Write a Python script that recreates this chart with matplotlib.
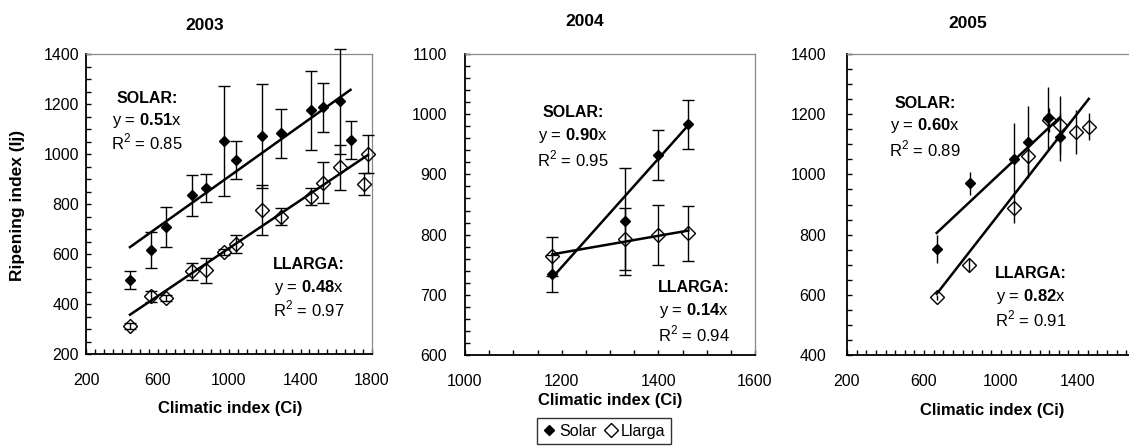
import matplotlib
matplotlib.use("Agg")
import matplotlib.pyplot as plt
from matplotlib.ticker import MultipleLocator, FixedLocator
from matplotlib.lines import Line2D

plt.rcParams['font.family'] = ['Liberation Sans', 'DejaVu Sans']
plt.rcParams['mathtext.fontset'] = 'custom'
plt.rcParams['mathtext.rm'] = 'Liberation Sans'
plt.rcParams['mathtext.bf'] = 'Liberation Sans:bold'
plt.rcParams['font.size'] = 11.5

years = ["2003", "2004", "2005"]

# 2003
ci_solar_03 = [446, 561, 645, 792, 874, 973, 1038, 1183, 1293, 1461, 1526, 1619, 1680]
ij_solar_03 = [497, 615, 708, 835, 864, 1053, 976, 1073, 1084, 1175, 1187, 1211, 1057]
err_solar_03 = [37, 72, 80, 83, 57, 219, 76, 208, 98, 158, 98, 210, 76]
ci_llarga_03 = [446, 561, 645, 792, 874, 973, 1038, 1183, 1293, 1461, 1526, 1619, 1753, 1777]
ij_llarga_03 = [313, 431, 425, 531, 535, 608, 641, 777, 750, 830, 885, 948, 880, 1002]
err_llarga_03 = [12, 22, 12, 35, 50, 12, 37, 100, 33, 34, 82, 90, 44, 76]

# 2004
ci_solar_04 = [1181, 1331, 1400, 1462]
ij_solar_04 = [735, 822, 932, 983]
err_solar_04 = [31, 89, 42, 41]
ci_llarga_04 = [1181, 1331, 1400, 1462]
ij_llarga_04 = [764, 793, 799, 802]
err_llarga_04 = [32, 51, 50, 46]

# 2005
ci_solar_05 = [666, 839, 1069, 1141, 1244, 1305]
ij_solar_05 = [753, 970, 1052, 1107, 1187, 1124]
err_solar_05 = [47, 39, 120, 120, 105, 80]
ci_llarga_05 = [666, 836, 1069, 1141, 1250, 1305, 1388, 1456]
ij_llarga_05 = [592, 700, 889, 1061, 1180, 1164, 1141, 1159]
err_llarga_05 = [8, 22, 50, 53, 40, 96, 72, 44]

# trend lines: slope (as printed) and intercept
slope_solar = [0.51, 0.90, 0.60]
icpt_solar = [400, -334, 406]
r2_solar = [0.85, 0.95, 0.89]
slope_llarga = [0.48, 0.14, 0.82]
icpt_llarga = [143, 602, 57]
r2_llarga = [0.97, 0.94, 0.91]

# labelled x ticks per panel
xticks = [[200, 600, 1000, 1400, 1800],
          [1000, 1200, 1400, 1600],
          [200, 600, 1000, 1400]]

solar = [(ci_solar_03, ij_solar_03, err_solar_03),
         (ci_solar_04, ij_solar_04, err_solar_04),
         (ci_solar_05, ij_solar_05, err_solar_05)]
llarga = [(ci_llarga_03, ij_llarga_03, err_llarga_03),
          (ci_llarga_04, ij_llarga_04, err_llarga_04),
          (ci_llarga_05, ij_llarga_05, err_llarga_05)]

W, H = 1129, 447
fig = plt.figure(figsize=(W / 100, H / 100), dpi=100)


def px_box(left, top, right, bottom):
    return [left / W, 1 - bottom / H, (right - left) / W, (bottom - top) / H]


axes = [fig.add_axes(px_box(86, 54, 372, 354)),
        fig.add_axes(px_box(465, 54, 755, 355)),
        fig.add_axes(px_box(847, 54, 1155, 355))]

xlims = [(200, 1800), (1000, 1600), (200, 1800)]
ylims = [(200, 1400), (600, 1100), (400, 1400)]
xminor = [50, 50, 50]
ymajor = [200, 100, 200]
yminor = [50, 20, 50]
ypads = [5, 13, 15]
caps = [4, 4, 0]

# label positions in axes fraction: (x, y of first line)
solar_txt = [(0.213, 0.853), (0.372, 0.804), (0.253, 0.837)]
llarga_txt = [(0.78, 0.297), (0.79, 0.223), (0.597, 0.272)]
line_step = [0.074, 0.076, 0.076]

title_x = [205, 585, 968]
title_y = [25, 22, 23]
xlab_x = [230, 610, 992]
xlab_y = [408, 400, 410]

for i, ax in enumerate(axes):
    cs, ys, es = solar[i]
    cl, yl, el = llarga[i]

    s_bars = ax.errorbar(cs, ys, yerr=es, fmt='D', color='black', ms=5.5,
                         elinewidth=1, capsize=caps[i], capthick=1, zorder=3)
    l_bars = ax.errorbar(cl, yl, yerr=el, fmt='D', color='black', mfc='none',
                         mec='black', mew=1, ms=7.5, elinewidth=1,
                         capsize=caps[i], capthick=1, zorder=3)
    for bars in (s_bars, l_bars):
        for artist in bars.get_children():
            artist.set_clip_on(False)

    xs = [min(cs), max(cs)]
    ax.plot(xs, [slope_solar[i] * x + icpt_solar[i] for x in xs],
            color='black', lw=1.8, zorder=4)
    xl = [min(cl), max(cl)]
    ax.plot(xl, [slope_llarga[i] * x + icpt_llarga[i] for x in xl],
            color='black', lw=1.8, zorder=4)

    ax.set_xlim(*xlims[i])
    ax.set_ylim(*ylims[i])
    ax.xaxis.set_major_locator(FixedLocator(xticks[i]))
    ax.xaxis.set_minor_locator(MultipleLocator(xminor[i]))
    ax.yaxis.set_major_locator(MultipleLocator(ymajor[i]))
    ax.yaxis.set_minor_locator(MultipleLocator(yminor[i]))
    ax.tick_params(which='both', direction='in', length=3.5, width=1,
                   top=False, right=False)
    ax.tick_params(axis='x', which='major', pad=14)
    ax.tick_params(axis='y', which='major', pad=ypads[i])

    for side in ['left', 'bottom']:
        ax.spines[side].set_color('black')
        ax.spines[side].set_linewidth(1.3)
    for side in ['top', 'right']:
        ax.spines[side].set_color('#888888')
        ax.spines[side].set_linewidth(0.9)

    sx, sy = solar_txt[i]
    st = line_step[i]
    ax.text(sx, sy, "SOLAR:", transform=ax.transAxes, ha='center',
            va='center', fontweight='bold', fontsize=11.5)
    ax.text(sx, sy - st, r"y = $\mathbf{%.2f}$x" % slope_solar[i],
            transform=ax.transAxes, ha='center', va='center', fontsize=12)
    ax.text(sx, sy - 2 * st, r"R$^{2}$ = %.2f" % r2_solar[i],
            transform=ax.transAxes, ha='center', va='center', fontsize=12)

    lx, ly = llarga_txt[i]
    ax.text(lx, ly, "LLARGA:", transform=ax.transAxes, ha='center',
            va='center', fontweight='bold', fontsize=11.5)
    ax.text(lx, ly - st, r"y = $\mathbf{%.2f}$x" % slope_llarga[i],
            transform=ax.transAxes, ha='center', va='center', fontsize=12)
    ax.text(lx, ly - 2 * st, r"R$^{2}$ = %.2f" % r2_llarga[i],
            transform=ax.transAxes, ha='center', va='center', fontsize=12)

    fig.text(title_x[i] / W, 1 - title_y[i] / H, years[i], ha='center',
             va='center', fontweight='bold', fontsize=12.5)
    fig.text(xlab_x[i] / W, 1 - xlab_y[i] / H, "Climatic index (Ci)",
             ha='center', va='center', fontweight='bold', fontsize=12)

fig.text(18 / W, 1 - 205 / H, "Ripening index (Ij)", rotation=90,
         ha='center', va='center', fontweight='bold', fontsize=12.5)

handles = [Line2D([], [], ls='none', marker='D', color='black', ms=5),
           Line2D([], [], ls='none', marker='D', mfc='white', mec='black',
                  mew=1, ms=7)]
leg = fig.legend(handles, ["Solar", "Llarga"], ncol=2, loc='upper center',
                 bbox_to_anchor=(604 / W, 1 - 418 / H), frameon=True,
                 fancybox=False, edgecolor='black', handlelength=0.8,
                 handletextpad=0.2, columnspacing=0.5, borderpad=0.35,
                 borderaxespad=0, fontsize=11.5)
leg.get_frame().set_linewidth(1)

fig.savefig("out.png", dpi=100)
